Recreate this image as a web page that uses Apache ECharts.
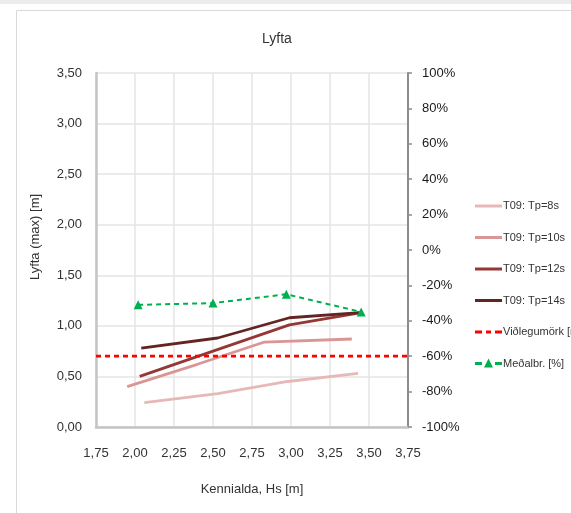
<!DOCTYPE html>
<html>
<head>
<meta charset="utf-8">
<script src="https://cdn.jsdelivr.net/npm/echarts@6/dist/echarts.min.js"></script>
<style>
  html, body { margin: 0; padding: 0; background: #fff; }
  #chart { width: 571px; height: 513px; }
</style>
</head>
<body>
<div id="chart"></div>
<script>
// lyfta, Hs values per series
var hs8 = [2.06, 2.53, 2.98, 3.43];
var lift8 = [0.24, 0.33, 0.45, 0.53];
var hs10 = [1.95, 2.40, 2.83, 3.39];
var lift10 = [0.40, 0.62, 0.84, 0.87];
var hs12 = [2.03, 2.50, 2.99, 3.45];
var lift12 = [0.50, 0.75, 1.01, 1.13];
var hs14 = [2.04, 2.53, 2.99, 3.44];
var lift14 = [0.78, 0.88, 1.08, 1.13];
var hsLimit = [1.75, 3.75];
var limit = [0.70, 0.70];
var hsMean = [2.02, 2.50, 2.97, 3.45];
var meanPct = [-31, -30, -25, -35];

var names = ['T09: Tp=8s', 'T09: Tp=10s', 'T09: Tp=12s', 'T09: Tp=14s', 'Viðlegumörk [m]', 'Meðalbr. [%]'];

function pairs(xs, ys) {
  return xs.map(function (x, i) { return [x, ys[i]]; });
}
function comma(v, d) {
  return v.toFixed(d).replace('.', ',');
}

var font = '"Liberation Sans", sans-serif';
var txt = '#333333';
// legend icons drawn inside a 27x14 box
var lineIcon = 'path://M0,0M0,5.5H27V8.5H0Z M27,14';
var dashIcon = 'path://M0,0M0,5.5H7V8.5H0Z M11,5.5H16V8.5H11Z M20,5.5H27V8.5H20Z M27,14';
var triIcon = 'path://M0,0M0,5.5H7V8.5H0Z M20,5.5H27V8.5H20Z M13.5,2L18,11H9Z M27,14';

var option = {
  animation: false,
  textStyle: { fontFamily: font },
  title: {
    text: 'Lyfta',
    left: 257,
    top: 27,
    textStyle: { fontSize: 14, fontWeight: 'normal', color: txt, fontFamily: font }
  },
  graphic: [
    { type: 'rect', shape: { x: 0, y: 0, width: 571, height: 4 }, style: { fill: '#ececec' } },
    { type: 'rect', shape: { x: 16.5, y: 10.5, width: 600, height: 600 }, style: { fill: 'none', stroke: '#d9d9d9', lineWidth: 1 } }
  ],
  legend: {
    orient: 'vertical',
    left: 470,
    top: 194,
    itemWidth: 27,
    itemHeight: 14,
    itemGap: 17.5,
    data: [
      { name: names[0], icon: lineIcon },
      { name: names[1], icon: lineIcon },
      { name: names[2], icon: lineIcon },
      { name: names[3], icon: lineIcon },
      { name: names[4], icon: dashIcon },
      { name: names[5], icon: triIcon }
    ],
    textStyle: { fontSize: 11, color: txt, fontFamily: font, padding: [0, 0, 0, -4] }
  },
  grid: { left: 96, right: 163, top: 73, bottom: 86 },
  xAxis: {
    type: 'value',
    min: 1.75, max: 3.75, interval: 0.25,
    name: 'Kennialda, Hs [m]',
    nameLocation: 'middle',
    nameGap: 56,
    nameTextStyle: { fontSize: 13, color: txt, fontFamily: font },
    axisLine: { lineStyle: { color: '#c4c4c4', width: 2.5 } },
    axisTick: { show: false },
    axisLabel: { color: txt, fontSize: 13, margin: 20, formatter: function (v) { return comma(v, 2); } },
    splitLine: { show: true, lineStyle: { color: '#e4e4e4', width: 1.5 } }
  },
  yAxis: [
    {
      type: 'value',
      min: 0, max: 3.5, interval: 0.5,
      name: 'Lyfta (max) [m]',
      nameLocation: 'middle',
      nameGap: 54,
      nameTextStyle: { fontSize: 13, color: txt, fontFamily: font, padding: [0, 0, 0, 26] },
      axisLine: { show: true, lineStyle: { color: '#c4c4c4', width: 2.5 } },
      axisTick: { show: false },
      axisLabel: { color: txt, fontSize: 13, margin: 14, formatter: function (v) { return comma(v, 2); } },
      splitLine: { show: true, lineStyle: { color: '#e4e4e4', width: 1.5 } }
    },
    {
      type: 'value',
      min: -100, max: 100, interval: 20,
      position: 'right',
      axisLine: { show: true, lineStyle: { color: '#8c8c8c', width: 2 } },
      axisTick: { show: true, length: 4, lineStyle: { color: '#8c8c8c', width: 1.5 } },
      axisLabel: { color: '#1a1a1a', fontSize: 13, margin: 14, formatter: function (v) { return v + '%'; } },
      splitLine: { show: false }
    }
  ],
  series: [
    { name: names[0], type: 'line', data: pairs(hs8, lift8), showSymbol: false, symbol: 'none',
      lineStyle: { color: '#e6b9b8', width: 2.8 }, itemStyle: { color: '#e6b9b8' } },
    { name: names[1], type: 'line', data: pairs(hs10, lift10), showSymbol: false, symbol: 'none',
      lineStyle: { color: '#d99694', width: 2.8 }, itemStyle: { color: '#d99694' } },
    { name: names[2], type: 'line', data: pairs(hs12, lift12), showSymbol: false, symbol: 'none',
      lineStyle: { color: '#953735', width: 2.8 }, itemStyle: { color: '#953735' } },
    { name: names[3], type: 'line', data: pairs(hs14, lift14), showSymbol: false, symbol: 'none',
      lineStyle: { color: '#632523', width: 2.8 }, itemStyle: { color: '#632523' } },
    { name: names[4], type: 'line', data: pairs(hsLimit, limit), showSymbol: false, symbol: 'none',
      lineStyle: { color: '#ff0000', width: 2.8, type: [5, 4] }, itemStyle: { color: '#ff0000' } },
    { name: names[5], type: 'line', yAxisIndex: 1, data: pairs(hsMean, meanPct),
      symbol: 'triangle', symbolSize: 9,
      lineStyle: { color: '#00b050', width: 2, type: [5, 4] }, itemStyle: { color: '#00b050' } }
  ]
};

var chart = echarts.init(document.getElementById('chart'));
chart.setOption(option);
</script>
</body>
</html>
